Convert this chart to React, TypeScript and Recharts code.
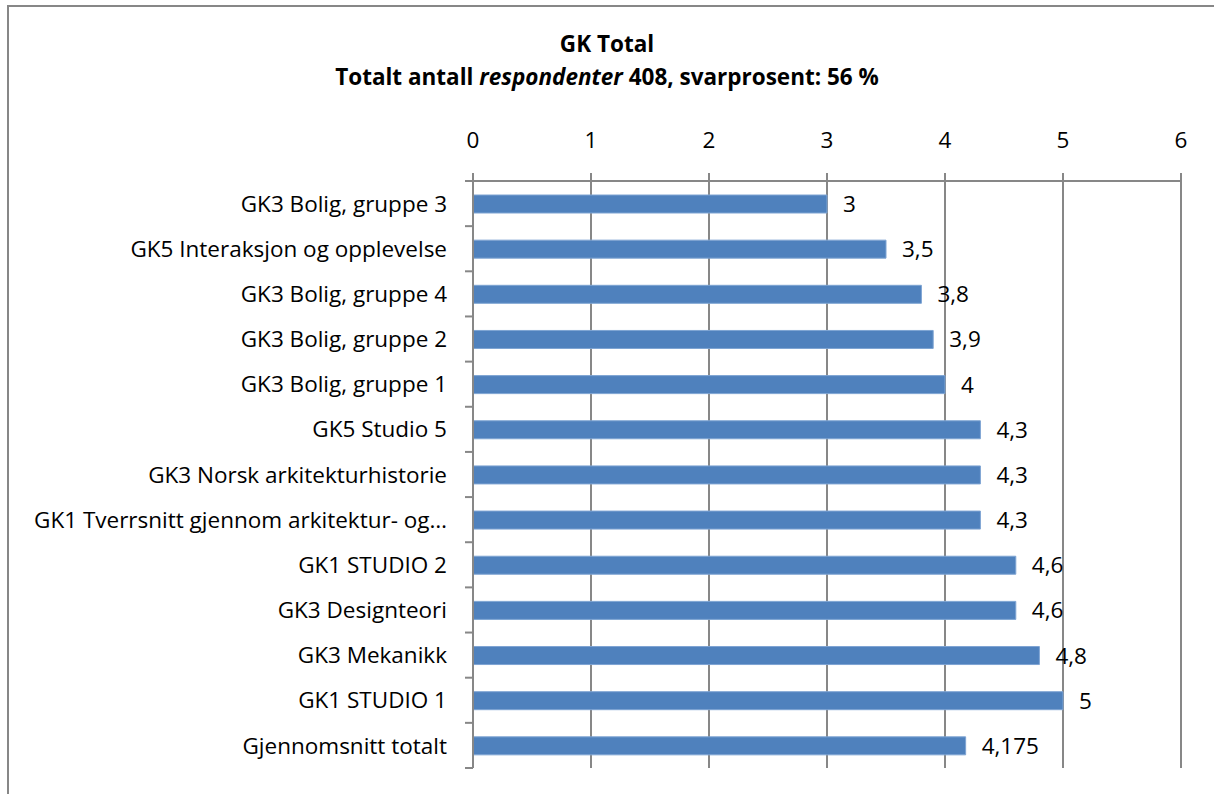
import React from "react";
import {
  BarChart,
  Bar,
  XAxis,
  YAxis,
  CartesianGrid,
  LabelList,
} from "recharts";

// categories top to bottom, as in the picture
const courses = [
  "GK3 Bolig, gruppe 3",
  "GK5 Interaksjon og opplevelse",
  "GK3 Bolig, gruppe 4",
  "GK3 Bolig, gruppe 2",
  "GK3 Bolig, gruppe 1",
  "GK5 Studio 5",
  "GK3 Norsk arkitekturhistorie",
  "GK1 Tverrsnitt gjennom arkitektur- og…",
  "GK1 STUDIO 2",
  "GK3 Designteori",
  "GK3 Mekanikk",
  "GK1 STUDIO 1",
  "Gjennomsnitt totalt",
];
const scores = [3, 3.5, 3.8, 3.9, 4, 4.3, 4.3, 4.3, 4.6, 4.6, 4.8, 5, 4.175];
const xTicks = [0, 1, 2, 3, 4, 5, 6];

const data = courses.map((name, i) => ({ name, score: scores[i] }));

const W = 1214;
const H = 794;
const PLOT_LEFT = 473;
const PLOT_TOP = 181;
const PLOT_RIGHT = 1181;
const PLOT_BOTTOM = 768;
const XAXIS_H = 40;
const FONT = "'Open Sans', sans-serif";
const FS = 22.5;
const GRID = "#878787";

const band = (PLOT_BOTTOM - PLOT_TOP) / courses.length;

const fmt = (v: any) => String(v).replace(".", ",");

const CategoryTick = (props: any) => {
  const { x, y, payload, index, visibleTicksCount } = props;
  const top = y - band / 2;
  const isLast = index === visibleTicksCount - 1;
  return (
    <g>
      <line x1={PLOT_LEFT - 8} x2={PLOT_LEFT} y1={top} y2={top} stroke={GRID} strokeWidth={2} />
      {isLast && (
        <line
          x1={PLOT_LEFT - 8}
          x2={PLOT_LEFT}
          y1={y + band / 2}
          y2={y + band / 2}
          stroke={GRID}
          strokeWidth={2}
        />
      )}
      <text
        x={x - 18}
        y={y}
        dy="0.36em"
        textAnchor="end"
        fontSize={FS}
        fontFamily={FONT}
        fill="#000"
      >
        {payload.value}
      </text>
    </g>
  );
};

export default function App() {
  return (
    <div
      style={{
        position: "absolute",
        left: 0,
        top: 0,
        width: W,
        height: H,
        overflow: "hidden",
        background: "#fff",
        fontFamily: FONT,
      }}
    >
      <div
        style={{
          position: "absolute",
          left: 7,
          top: 5,
          width: 1400,
          height: 1000,
          borderTop: `2px solid ${GRID}`,
          borderLeft: `2px solid ${GRID}`,
        }}
      />
      <div
        style={{
          position: "absolute",
          left: 0,
          top: 27,
          width: W,
          textAlign: "center",
          fontWeight: "bold",
          fontSize: FS,
          lineHeight: "33px",
          color: "#000",
        }}
      >
        <div>GK Total</div>
        <div>
          Totalt antall <i>respondenter</i> 408, svarprosent: 56 %
        </div>
      </div>
      <div style={{ position: "absolute", left: 0, top: 0 }}>
        <BarChart
          width={W}
          height={H}
          data={data}
          layout="vertical"
          margin={{
            top: PLOT_TOP - XAXIS_H,
            right: W - PLOT_RIGHT,
            bottom: H - PLOT_BOTTOM,
            left: 0,
          }}
        >
          <CartesianGrid horizontal={false} stroke={GRID} strokeWidth={2} />
          <XAxis
            type="number"
            orientation="top"
            domain={[0, 6]}
            ticks={xTicks}
            height={XAXIS_H}
            tickSize={8}
            tickMargin={25}
            axisLine={{ stroke: GRID, strokeWidth: 2 }}
            tickLine={{ stroke: GRID, strokeWidth: 2 }}
            tick={{ fill: "#000", fontSize: FS, fontFamily: FONT }}
            interval={0}
          />
          <YAxis
            type="category"
            dataKey="name"
            width={PLOT_LEFT}
            axisLine={{ stroke: GRID, strokeWidth: 2 }}
            tickLine={false}
            tick={<CategoryTick />}
            interval={0}
          />
          <Bar
            dataKey="score"
            fill="#4F81BD"
            stroke="#7ea4d3"
            strokeWidth={1}
            barSize={18}
            isAnimationActive={false}
          >
            <LabelList
              dataKey="score"
              position="right"
              offset={16}
              formatter={fmt}
              fill="#000"
              fontSize={FS}
              fontFamily={FONT}
            />
          </Bar>
        </BarChart>
      </div>
    </div>
  );
}
